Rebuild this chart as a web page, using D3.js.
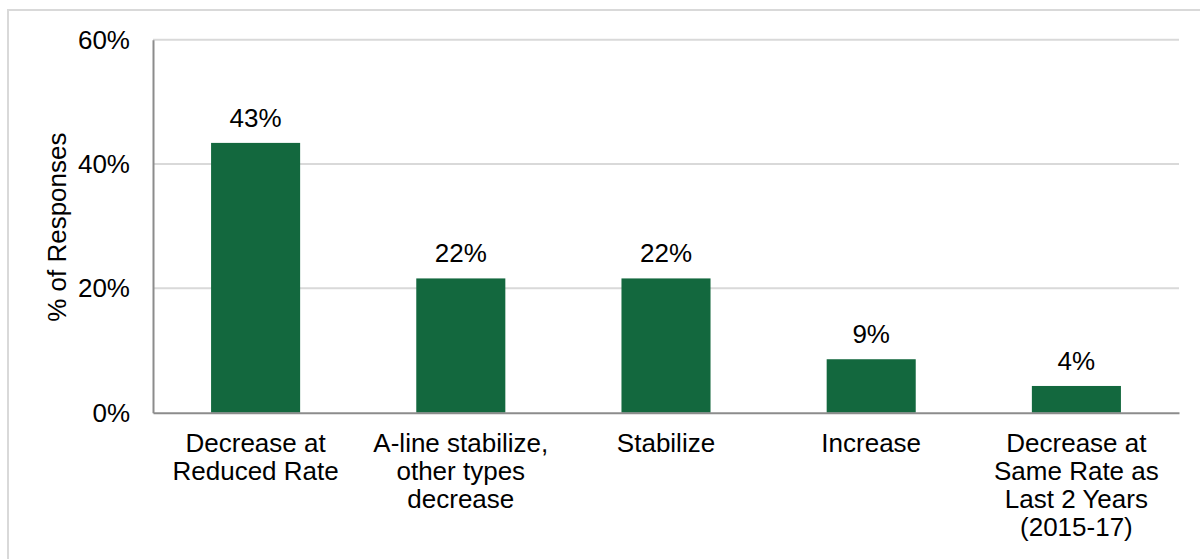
<!DOCTYPE html>
<html>
<head>
<meta charset="utf-8">
<script src="https://cdn.jsdelivr.net/npm/d3@7"></script>
<style>
  html, body { margin: 0; padding: 0; background: #fff; }
  svg { display: block; font-family: "Liberation Sans", Arial, sans-serif; }
</style>
</head>
<body>
<svg id="chart" width="1200" height="559"></svg>
<script>
// Expected trend in responses, share of all responses
const categories = [
  ["Decrease at", "Reduced Rate"],
  ["A-line stabilize,", "other types", "decrease"],
  ["Stabilize"],
  ["Increase"],
  ["Decrease at", "Same Rate as", "Last 2 Years", "(2015-17)"]
];
const shares = [0.434, 0.216, 0.216, 0.086, 0.043];
const yTicks = [0, 0.2, 0.4, 0.6];
const yAxisTitle = "% of Responses";

const svg = d3.select("#chart");
const margin = { left: 153, right: 1179, top: 39.7, bottom: 412.7 };
const green = "#13683e";
const fontSize = 26;

// outer chart-area frame
svg.append("path")
  .attr("d", "M8,560 L8,10 L1201,10")
  .attr("fill", "none")
  .attr("stroke", "#d9d9d9")
  .attr("stroke-width", 2);

const x = d3.scaleBand()
  .domain(d3.range(categories.length))
  .range([margin.left, margin.right])
  .paddingInner(0.566)
  .paddingOuter(0.283);

const y = d3.scaleLinear()
  .domain([0, 0.6])
  .range([margin.bottom, margin.top]);

const pct = d3.format(".0%");

// horizontal gridlines
svg.append("g")
  .selectAll("line")
  .data(yTicks.filter(t => t > 0))
  .join("line")
  .attr("x1", margin.left)
  .attr("x2", margin.right)
  .attr("y1", d => y(d))
  .attr("y2", d => y(d))
  .attr("stroke", "#d9d9d9")
  .attr("stroke-width", 2);

// y axis
const yAxis = svg.append("g")
  .attr("transform", `translate(${margin.left},0)`)
  .call(d3.axisLeft(y).tickValues(yTicks).tickFormat(pct).tickSize(0).tickPadding(23));
yAxis.select(".domain").attr("stroke", "#8c8c8c").attr("stroke-width", 2);
yAxis.selectAll("text")
  .attr("font-size", fontSize)
  .attr("font-family", "Liberation Sans, Arial, sans-serif")
  .attr("fill", "#000");

// bars
svg.append("g")
  .selectAll("rect")
  .data(shares)
  .join("rect")
  .attr("x", (d, i) => x(i))
  .attr("width", x.bandwidth())
  .attr("y", d => y(d))
  .attr("height", d => y(0) - y(d))
  .attr("fill", green);

// value labels
svg.append("g")
  .selectAll("text")
  .data(shares)
  .join("text")
  .attr("x", (d, i) => x(i) + x.bandwidth() / 2)
  .attr("y", d => y(d) - 16)
  .attr("text-anchor", "middle")
  .attr("font-size", fontSize)
  .attr("fill", "#000")
  .text(d => pct(d));

// x axis baseline
const xAxis = svg.append("g")
  .attr("transform", `translate(0,${margin.bottom})`)
  .call(d3.axisBottom(x).tickSize(0).tickFormat(""));
xAxis.select(".domain").attr("stroke", "#8c8c8c").attr("stroke-width", 2);

// multi-line category labels
const catG = svg.append("g");
categories.forEach((lines, i) => {
  const t = catG.append("text")
    .attr("x", x(i) + x.bandwidth() / 2)
    .attr("y", 451.5)
    .attr("text-anchor", "middle")
    .attr("font-size", fontSize)
    .attr("fill", "#000");
  lines.forEach((line, j) => {
    t.append("tspan")
      .attr("x", x(i) + x.bandwidth() / 2)
      .attr("dy", j === 0 ? 0 : 28.3)
      .text(line);
  });
});

// y axis title
svg.append("text")
  .attr("transform", `translate(65.5,${(margin.top + margin.bottom) / 2 + 1}) rotate(-90)`)
  .attr("text-anchor", "middle")
  .attr("font-size", fontSize)
  .attr("fill", "#000")
  .text(yAxisTitle);
</script>
</body>
</html>
